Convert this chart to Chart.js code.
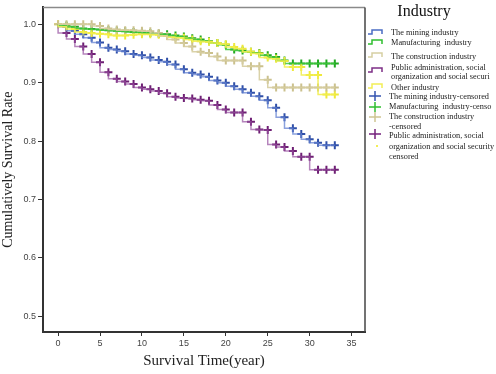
<!DOCTYPE html>
<html>
<head>
<meta charset="utf-8">
<script src="https://cdn.jsdelivr.net/npm/chart.js@4/dist/chart.umd.min.js"></script>
<style>
  html,body{margin:0;padding:0;background:#fff;}
  #wrap{width:496px;height:374px;position:relative;}
</style>
</head>
<body>
<div id="wrap"><canvas id="kmChart"></canvas></div>
<script>
// survival time (years) at which each estimate is read
const years = [0,1,2,3,4,5,6,7,8,9,10,11,12,13,14,15,16,17,18,19,20,21,22,23,24,25,26,27,28,29,30,31,32,33];

// cumulative survival per industry, one value per year above
const mining       = [1.000,0.996,0.989,0.983,0.977,0.969,0.960,0.957,0.954,0.949,0.947,0.943,0.939,0.936,0.931,0.923,0.917,0.914,0.910,0.904,0.900,0.894,0.889,0.883,0.877,0.870,0.857,0.841,0.822,0.812,0.803,0.797,0.793,0.793];
const manufacturing= [1.000,0.998,0.996,0.993,0.992,0.991,0.990,0.989,0.988,0.987,0.986,0.985,0.984,0.983,0.981,0.979,0.976,0.974,0.971,0.968,0.965,0.957,0.955,0.953,0.951,0.947,0.944,0.938,0.933,0.933,0.933,0.933,0.933,0.933];
const construction = [1.000,1.000,1.000,1.000,1.000,0.997,0.993,0.991,0.990,0.990,0.989,0.988,0.985,0.980,0.974,0.968,0.962,0.953,0.951,0.945,0.938,0.938,0.938,0.928,0.928,0.905,0.892,0.892,0.892,0.892,0.892,0.892,0.892,0.892];
const publicAdmin  = [1.000,0.985,0.975,0.962,0.949,0.935,0.918,0.907,0.902,0.898,0.892,0.889,0.886,0.882,0.876,0.874,0.873,0.871,0.869,0.862,0.854,0.849,0.849,0.833,0.820,0.819,0.794,0.790,0.783,0.773,0.773,0.751,0.751,0.751];
const otherInd     = [1.000,0.996,0.992,0.987,0.985,0.984,0.983,0.981,0.981,0.982,0.983,0.983,0.982,0.980,0.978,0.977,0.974,0.971,0.970,0.968,0.966,0.961,0.958,0.953,0.950,0.943,0.941,0.937,0.927,0.927,0.913,0.913,0.880,0.880];

// years carrying a censor mark ("+")
const censorYears = [1,2,3,4,5,6,7,8,9,10,11,12,13,14,15,16,17,18,19,20,21,22,23,24,25,26,27,28,29,30,31,32,33];
const censorYearsFrom0 = [0].concat(censorYears);

const xTicks = [0,5,10,15,20,25,30,35];
const yTicks = [0.5,0.6,0.7,0.8,0.9,1.0];

// legend entries: icon kind, colour, icon row, text rows
const legendItems = [
  {kind:'step',  color:'#4a6cc4', y:32,  ty:[33],          lines:['The mining industry']},
  {kind:'step',  color:'#2fbf2f', y:42,  ty:[43],          lines:['Manufacturing  industry']},
  {kind:'step',  color:'#d6cfa2', y:55,  ty:[57],          lines:['The construction industry']},
  {kind:'step',  color:'#7d2f86', y:70,  ty:[68,77],       lines:['Public administration, social','organization and social securi']},
  {kind:'step',  color:'#f2ee55', y:86,  ty:[88],          lines:['Other industry']},
  {kind:'cross', color:'#3554b0', y:96,  ty:[97],          lines:['The mining industry-censored']},
  {kind:'cross', color:'#2fbf2f', y:107, ty:[107],         lines:['Manufacturing  industry-censo']},
  {kind:'cross', color:'#cfc593', y:117, ty:[117,127],     lines:['The construction industry','-censored']},
  {kind:'cross', color:'#74217c', y:134, ty:[136,147,157], lines:['Public administration, social','organization and social security','censored']},
  {kind:'dot',   color:'#f2ee55', y:146, ty:[],            lines:[]}
];

function pts(vals){ return years.map((t,i)=>({x:t, y:vals[i]})); }
function marks(vals, list){ return list.map(t=>({x:t, y:vals[years.indexOf(t)]})); }

function stepSet(label, vals, color){
  return {label, data:pts(vals), borderColor:color, borderWidth:1.5, pointRadius:0, stepped:'after', fill:false};
}
function crossSet(label, vals, list, color){
  return {label, data:marks(vals,list), showLine:false, borderColor:color, backgroundColor:color,
    pointStyle:'cross', pointRadius:4, pointBorderWidth:2, pointHoverRadius:4};
}

const serif = '"Liberation Serif", "Times New Roman", serif';
const sans = '"Liberation Sans", Arial, sans-serif';

// right-hand legend + box frame, drawn straight onto the canvas
const legendPlugin = {
  id:'kmLegend',
  afterDraw(chart){
    const ctx = chart.ctx, a = chart.chartArea;
    ctx.save();
    // frame top/right
    ctx.strokeStyle = '#8a8a8a'; ctx.lineWidth = 1.5;
    ctx.beginPath(); ctx.moveTo(a.left, a.top); ctx.lineTo(a.right, a.top); ctx.stroke();
    ctx.strokeStyle = '#444'; ctx.lineWidth = 1.5;
    ctx.beginPath(); ctx.moveTo(a.right, a.top); ctx.lineTo(a.right, a.bottom); ctx.stroke();

    ctx.fillStyle = '#111';
    ctx.font = '16px ' + serif;
    ctx.textAlign = 'center'; ctx.textBaseline = 'middle';
    ctx.fillText('Industry', 424, 12);

    ctx.font = '8.3px ' + serif;
    ctx.textAlign = 'left';
    legendItems.forEach(it=>{
      ctx.strokeStyle = it.color; ctx.lineWidth = 1.5;
      if(it.kind==='step'){
        ctx.beginPath();
        ctx.moveTo(368, it.y+2); ctx.lineTo(372, it.y+2); ctx.lineTo(372, it.y-2);
        ctx.lineTo(382, it.y-2); ctx.lineTo(382, it.y+2); ctx.stroke();
      } else if(it.kind==='cross'){
        ctx.beginPath();
        ctx.moveTo(369, it.y); ctx.lineTo(381, it.y);
        ctx.moveTo(375, it.y-5); ctx.lineTo(375, it.y+5); ctx.stroke();
      } else {
        ctx.fillStyle = it.color; ctx.fillRect(376, it.y-1, 2, 2);
      }
      ctx.fillStyle = '#222';
      const x0 = it.kind==='cross' ? 389 : 391;
      it.lines.forEach((s,k)=>ctx.fillText(s, x0, it.ty[k]));
    });
    ctx.restore();
  }
};

new Chart(document.getElementById('kmChart'), {
  type:'line',
  data:{datasets:[
    stepSet('The construction industry', construction, 'rgba(214,205,160,0.9)'),
    stepSet('Other industry', otherInd, 'rgba(242,238,80,0.9)'),
    stepSet('Manufacturing  industry', manufacturing, 'rgba(60,200,60,0.85)'),
    stepSet('The mining industry', mining, 'rgba(100,130,210,0.75)'),
    stepSet('Public administration', publicAdmin, 'rgba(150,80,160,0.7)'),
    crossSet('construction-censored', construction, censorYearsFrom0, '#cbc18e'),
    crossSet('other-censored', otherInd, censorYearsFrom0, '#efe93a'),
    crossSet('manufacturing-censored', manufacturing, censorYears, '#22a822'),
    crossSet('mining-censored', mining, censorYears, '#2f4fa8'),
    crossSet('public-censored', publicAdmin, censorYears, '#6e1f74')
  ]},
  options:{
    responsive:true, maintainAspectRatio:false, animation:false,
    layout:{padding:{top:6, right:131, left:0, bottom:0}},
    plugins:{legend:{display:false}, tooltip:{enabled:false}},
    scales:{
      x:{type:'linear', min:-1.8, max:36.6,
        afterBuildTicks:s=>{ s.ticks = xTicks.map(v=>({value:v})); },
        afterFit:s=>{ s.height = 42; },
        grid:{drawOnChartArea:false, drawTicks:true, tickLength:4, color:'#333'},
        border:{display:true, color:'#333', width:2},
        ticks:{color:'#444', font:{family:sans, size:9}, padding:2, maxRotation:0},
        title:{display:true, text:'Survival Time(year)', color:'#222', font:{family:serif, size:15}, padding:{top:6,bottom:4}}
      },
      y:{type:'linear', min:0.473, max:1.029,
        afterBuildTicks:s=>{ s.ticks = yTicks.map(v=>({value:v})); },
        afterFit:s=>{ s.width = 43; },
        grid:{drawOnChartArea:false, drawTicks:true, tickLength:5, color:'#333'},
        border:{display:true, color:'#333', width:2},
        ticks:{color:'#444', font:{family:sans, size:9}, padding:2, callback:v=>v.toFixed(1)},
        title:{display:true, text:'Cumulatively Survival Rate', color:'#222', font:{family:serif, size:14}, padding:{top:0,bottom:0}}
      }
    }
  },
  plugins:[legendPlugin]
});
</script>
</body>
</html>
